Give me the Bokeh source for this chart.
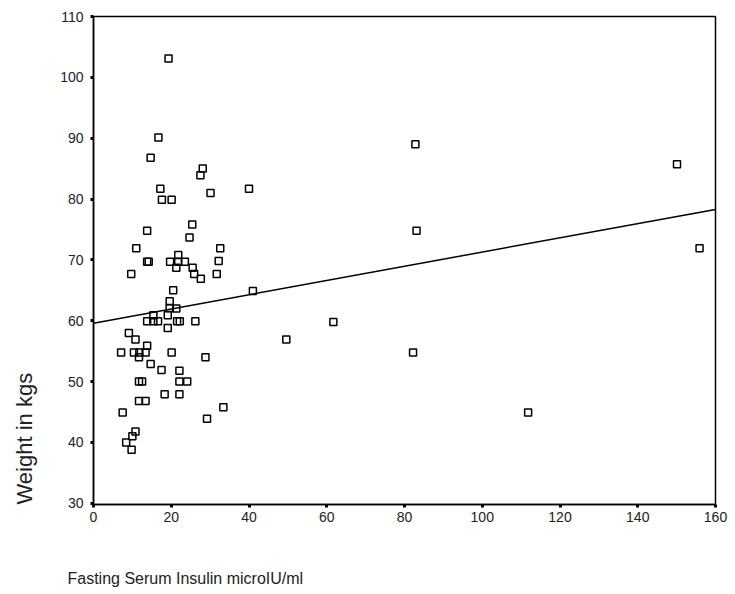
from bokeh.plotting import figure
from bokeh.models import Range1d, Title, FixedTicker
from bokeh.embed import file_html
from bokeh.resources import INLINE

insulin = [19.3, 16.7, 14.7, 28.1, 27.5, 17.2, 17.6, 20.1, 30.1, 40.0,
           25.4, 13.8, 24.7, 11.0, 32.6, 13.8, 14.2, 21.8, 19.7, 21.8,
           23.5, 21.3, 32.2, 9.7, 25.5, 25.9, 27.6, 31.7, 20.5, 41.0,
           19.6, 19.6, 21.3, 15.4, 19.1, 13.8, 15.4, 16.6, 21.5, 22.2,
           26.2, 19.1, 9.1, 10.8, 13.8, 7.1, 10.4, 11.8, 13.4, 11.7,
           20.1, 28.8, 14.7, 17.5, 22.1, 11.7, 12.5, 22.1, 24.1, 18.3,
           22.1, 11.7, 13.4, 7.5, 33.4, 29.2, 10.8, 10.0, 8.4, 9.8,
           83.1, 82.8, 61.7, 82.2, 49.6, 150.1, 155.9, 111.8]
weight = [103.1, 90.1, 86.8, 85.0, 83.9, 81.7, 79.9, 79.9, 81.0, 81.7,
          75.8, 74.8, 73.7, 71.9, 71.9, 69.7, 69.7, 70.8, 69.7, 69.7,
          69.7, 68.7, 69.8, 67.7, 68.7, 67.7, 66.9, 67.7, 65.0, 64.9,
          63.2, 62.1, 62.0, 60.9, 60.9, 59.9, 59.9, 59.9, 59.9, 59.9,
          59.9, 58.8, 58.0, 56.9, 55.9, 54.8, 54.8, 54.8, 54.8, 54.0,
          54.8, 54.0, 52.9, 51.9, 51.8, 50.0, 50.0, 50.0, 50.0, 47.9,
          47.9, 46.8, 46.8, 44.9, 45.8, 43.9, 41.8, 41.0, 40.0, 38.8,
          74.8, 89.0, 59.8, 54.8, 56.9, 85.7, 71.9, 44.9]

fit_x = [0, 160]
fit_y = [59.6, 78.3]

x_ticks = [0, 20, 40, 60, 80, 100, 120, 140, 160]
y_ticks = [30, 40, 50, 60, 70, 80, 90, 100, 110]

FONT = "Liberation Sans"

p = figure(width=735, height=594, output_backend="svg", toolbar_location=None,
           x_range=Range1d(0, 160), y_range=Range1d(29.8, 110),
           min_border_left=93, min_border_right=20, min_border_top=16,
           min_border_bottom=90)
p.background_fill_color = "white"
p.border_fill_color = "white"
p.outline_line_color = "black"
p.outline_line_width = 1.5
p.xgrid.visible = False
p.ygrid.visible = False

for ax in (p.xaxis[0], p.yaxis[0]):
    ax.axis_line_color = "black"
    ax.axis_line_width = 1.5
    ax.major_tick_line_color = "black"
    ax.major_tick_line_width = 3
    ax.major_tick_out = 3
    ax.major_tick_in = 0
    ax.minor_tick_line_color = None
    ax.major_label_text_font = FONT
    ax.major_label_text_font_size = "14px"
    ax.major_label_text_color = "#222222"
    # blank axis label only reserves spacing for the offset titles below
    ax.axis_label = " "
    ax.axis_label_text_font = FONT

p.xaxis[0].ticker = FixedTicker(ticks=x_ticks)
p.yaxis[0].ticker = FixedTicker(ticks=y_ticks)
p.xaxis[0].major_label_standoff = 4
p.yaxis[0].major_label_standoff = 7
p.xaxis[0].axis_label_text_font_size = "16px"
p.xaxis[0].axis_label_standoff = 18
p.yaxis[0].axis_label_text_font_size = "14px"
p.yaxis[0].axis_label_standoff = 0

p.line(fit_x, fit_y, line_color="black", line_width=1.5)
p.scatter(insulin, weight, marker="square", size=7, fill_color=None,
          line_color="black", line_width=1.5)

p.add_layout(Title(text="Fasting Serum Insulin microIU/ml", align="left", offset=-26,
                   standoff=10, text_font=FONT, text_font_size="16px",
                   text_font_style="normal", text_color="#222222"), "below")
p.add_layout(Title(text="Weight in kgs", align="left", offset=0,
                   standoff=4, text_font=FONT, text_font_size="22px",
                   text_font_style="normal", text_color="#222222"), "left")

open("out.html", "w").write(file_html(p, INLINE))
